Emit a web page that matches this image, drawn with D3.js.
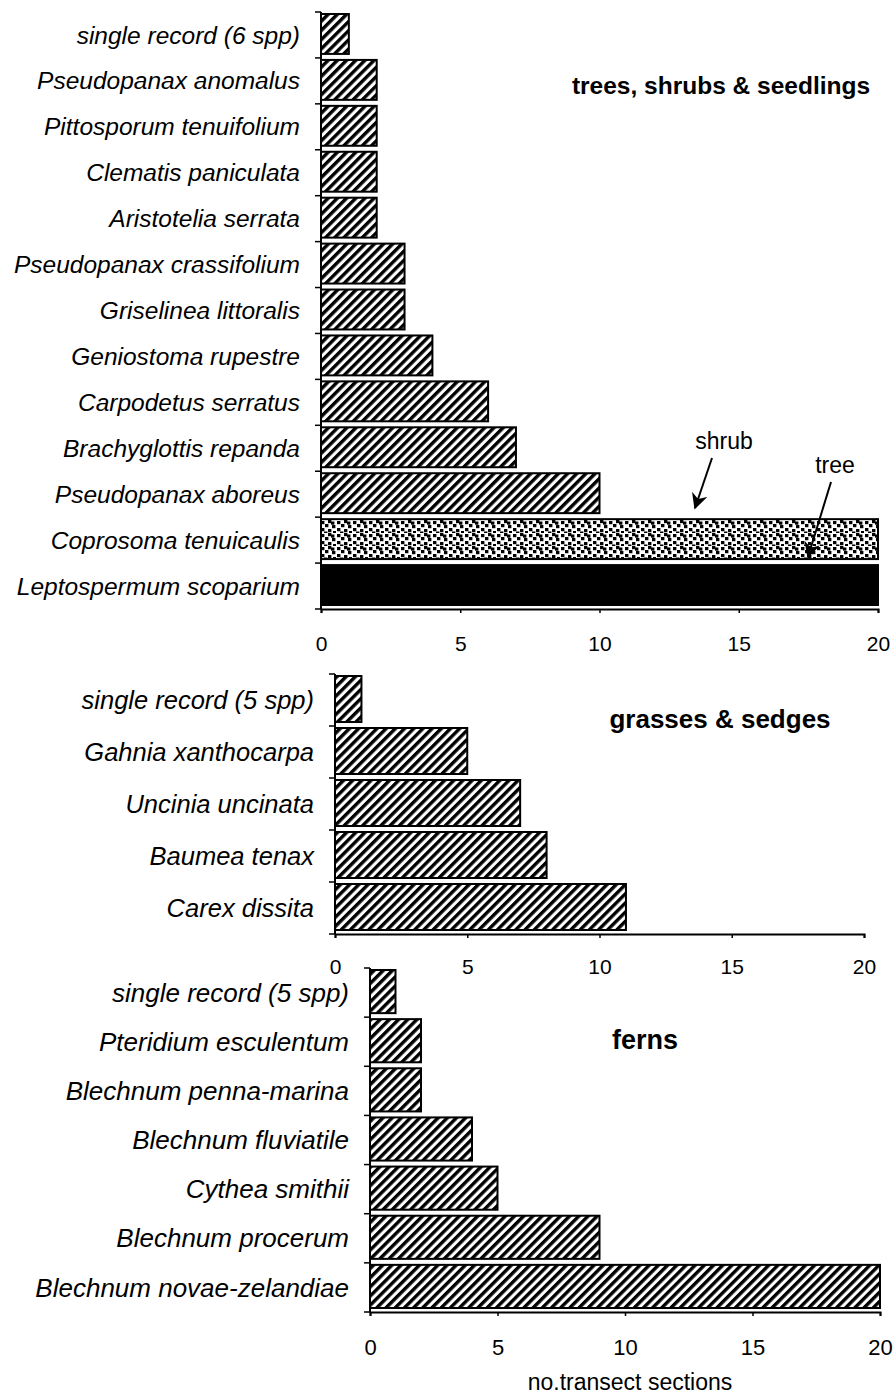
<!DOCTYPE html>
<html>
<head>
<meta charset="utf-8">
<script src="https://cdn.jsdelivr.net/npm/d3@7"></script>
<style>
  body { margin: 0; background: #fff; }
  svg { display: block; font-family: "Liberation Sans", Arial, sans-serif; }
  .spp { font-style: italic; }
  .title { font-weight: bold; }
</style>
</head>
<body>
<div id="chart"></div>
<script>
// trees, shrubs & seedlings
var treeSpp = ['single record (6 spp)', 'Pseudopanax anomalus', 'Pittosporum tenuifolium', 'Clematis paniculata',
  'Aristotelia serrata', 'Pseudopanax crassifolium', 'Griselinea littoralis', 'Geniostoma rupestre',
  'Carpodetus serratus', 'Brachyglottis repanda', 'Pseudopanax aboreus', 'Coprosoma tenuicaulis', 'Leptospermum scoparium'];
var treeVals = [1, 2, 2, 2, 2, 3, 3, 4, 6, 7, 10, 20, 20];
var treeFill = ['hatch', 'hatch', 'hatch', 'hatch', 'hatch', 'hatch', 'hatch', 'hatch', 'hatch', 'hatch', 'hatch', 'stipple', 'solid'];

// grasses & sedges
var grassSpp = ['single record (5 spp)', 'Gahnia xanthocarpa', 'Uncinia uncinata', 'Baumea tenax', 'Carex dissita'];
var grassVals = [1, 5, 7, 8, 11];

// ferns
var fernSpp = ['single record (5 spp)', 'Pteridium esculentum', 'Blechnum penna-marina', 'Blechnum fluviatile',
  'Cythea smithii', 'Blechnum procerum', 'Blechnum novae-zelandiae'];
var fernVals = [1, 2, 2, 4, 5, 9, 20];

var xTicks = [0, 5, 10, 15, 20];

var width = 893, height = 1398;

var svg = d3.select('#chart').append('svg')
  .attr('width', width)
  .attr('height', height);

var defs = svg.append('defs');

// diagonal hatch ///
var hatch = defs.append('pattern')
  .attr('id', 'hatch')
  .attr('patternUnits', 'userSpaceOnUse')
  .attr('width', 6.5).attr('height', 6.5)
  .attr('patternTransform', 'rotate(45)');
hatch.append('rect').attr('width', 6.5).attr('height', 6.5).attr('fill', '#fff');
hatch.append('rect').attr('x', 0).attr('width', 3.4).attr('height', 6.5).attr('fill', '#000');

// stippled fill for the shrub bar
var stip = defs.append('pattern')
  .attr('id', 'stipple')
  .attr('patternUnits', 'userSpaceOnUse')
  .attr('width', 16).attr('height', 13);
stip.append('rect').attr('width', 16).attr('height', 13).attr('fill', '#fff');
[[1, 1], [8, 0], [5, 4], [12, 5], [1, 8], [8, 9], [13, 11], [4, 11.5], [11, 1.5]].forEach(function (p) {
  stip.append('rect').attr('x', p[0]).attr('y', p[1]).attr('width', 3.4).attr('height', 3.2).attr('fill', '#000');
});

var fills = { hatch: 'url(#hatch)', stipple: 'url(#stipple)', solid: '#000' };

function panel(cfg) {
  var x = d3.scaleLinear().domain([0, 20]).range([cfg.x0, cfg.x1]);
  var y = d3.scaleBand().domain(cfg.spp).range([cfg.top, cfg.bottom]);
  var g = svg.append('g');

  g.selectAll('rect.bar')
    .data(cfg.vals)
    .enter().append('rect')
    .attr('class', 'bar')
    .attr('x', x(0))
    .attr('y', function (d, i) { return y(cfg.spp[i]) + 2; })
    .attr('width', function (d) { return x(d) - x(0); })
    .attr('height', y.bandwidth() - 6)
    .attr('fill', function (d, i) { return fills[cfg.fill ? cfg.fill[i] : 'hatch']; })
    .attr('stroke', '#000')
    .attr('stroke-width', 2);

  // species names
  g.selectAll('text.spp')
    .data(cfg.spp)
    .enter().append('text')
    .attr('class', 'spp')
    .attr('x', x(0) - 21)
    .attr('y', function (d) { return y(d) + y.bandwidth() / 2; })
    .attr('dy', '0.35em')
    .attr('text-anchor', 'end')
    .style('font-size', cfg.fs + 'px')
    .text(function (d) { return d; });

  // y axis with ticks at band edges
  g.append('line')
    .attr('x1', x(0)).attr('x2', x(0))
    .attr('y1', cfg.top).attr('y2', cfg.bottom)
    .attr('stroke', '#000').attr('stroke-width', 2);
  g.selectAll('line.ytick')
    .data(d3.range(cfg.spp.length + 1))
    .enter().append('line')
    .attr('class', 'ytick')
    .attr('x1', x(0) - 6).attr('x2', x(0))
    .attr('y1', function (i) { return cfg.top + i * y.step(); })
    .attr('y2', function (i) { return cfg.top + i * y.step(); })
    .attr('stroke', '#000').attr('stroke-width', 1.5);

  var ax = g.append('g')
    .attr('transform', 'translate(0,' + cfg.bottom + ')')
    .call(d3.axisBottom(x).tickValues(xTicks).tickSize(4).tickPadding(cfg.pad));
  ax.select('.domain').attr('stroke-width', 2);
  ax.selectAll('.tick line').attr('stroke-width', 1.5);
  ax.selectAll('.tick text').attr('fill', '#000')
    .style('font-family', '"Liberation Sans", Arial, sans-serif')
    .style('font-size', cfg.tfs + 'px');

  g.append('text')
    .attr('class', 'title')
    .attr('x', cfg.titleX)
    .attr('y', cfg.titleY)
    .attr('dy', '0.35em')
    .attr('text-anchor', 'middle')
    .style('font-size', cfg.hfs + 'px')
    .text(cfg.title);

  return { x: x, y: y };
}

panel({ spp: treeSpp, vals: treeVals, fill: treeFill, x0: 321, x1: 878, top: 12, bottom: 609,
  fs: 24.5, tfs: 21, hfs: 24.5, pad: 23,
  title: 'trees, shrubs & seedlings', titleX: 721, titleY: 85 });
panel({ spp: grassSpp, vals: grassVals, x0: 335, x1: 864, top: 674, bottom: 934,
  fs: 25.5, tfs: 21, hfs: 26, pad: 21,
  title: 'grasses & sedges', titleX: 720, titleY: 719 });
panel({ spp: fernSpp, vals: fernVals, x0: 370, x1: 880, top: 968, bottom: 1312,
  fs: 26, tfs: 22, hfs: 27, pad: 23,
  title: 'ferns', titleX: 645, titleY: 1040 });

svg.append('text')
  .attr('x', 630).attr('y', 1382)
  .attr('dy', '0.35em')
  .attr('text-anchor', 'middle')
  .style('font-size', '23px')
  .text('no.transect sections');

// shrub / tree arrows pointing into the two long bars
defs.append('marker')
  .attr('id', 'head')
  .attr('viewBox', '0 0 10 10')
  .attr('refX', 9).attr('refY', 5)
  .attr('markerWidth', 16).attr('markerHeight', 16)
  .attr('markerUnits', 'userSpaceOnUse')
  .attr('orient', 'auto')
  .append('path').attr('d', 'M0,0 L10,5 L0,10 L3,5 Z').attr('fill', '#000');

var notes = [
  { text: 'shrub', tx: 724, ty: 441, from: [712, 458], to: [695, 508] },
  { text: 'tree', tx: 835, ty: 465, from: [831, 482], to: [808, 557] }
];
notes.forEach(function (n) {
  svg.append('text').attr('x', n.tx).attr('y', n.ty).attr('dy', '0.35em')
    .attr('text-anchor', 'middle').style('font-size', '23px').text(n.text);
  svg.append('line')
    .attr('x1', n.from[0]).attr('y1', n.from[1])
    .attr('x2', n.to[0]).attr('y2', n.to[1])
    .attr('stroke', '#000').attr('stroke-width', 2)
    .attr('marker-end', 'url(#head)');
});
</script>
</body>
</html>
